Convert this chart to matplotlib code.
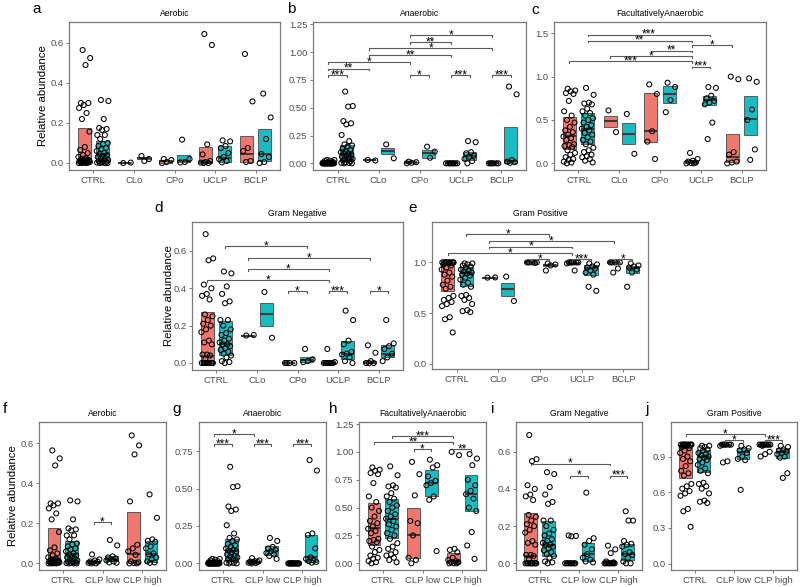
import matplotlib
matplotlib.use("Agg")
import matplotlib.pyplot as plt
from matplotlib.patches import Rectangle
import numpy as np

plt.rcParams['font.family'] = ['Liberation Sans', 'DejaVu Sans']

RED = '#F0776D'
TEAL = '#19BCC1'

CATS5 = ["CTRL", "CLo", "CPo", "UCLP", "BCLP"]
CATS3 = ["CTRL", "CLP low", "CLP high"]

# ---------------- shared control values ----------------
AER_CTRL_R = [0.565, 0.525, 0.49, 0.30, 0.30, 0.29, 0.275, 0.25, 0.22, 0.157, 0.08, 0.065, 0.05,
              0.04, 0.03, 0.025, 0.02, 0.015, 0.012, 0.01, 0.008, 0.006, 0.005, 0.004, 0.003,
              0.002, 0.001, 0.0, 0.0, 0.0, 0.01, 0.02]
AER_CTRL_T = [0.315, 0.31, 0.22, 0.175, 0.17, 0.165, 0.14, 0.14, 0.12, 0.10, 0.095, 0.085, 0.075,
              0.07, 0.06, 0.05, 0.045, 0.04, 0.035, 0.03, 0.025, 0.02, 0.015, 0.01, 0.008, 0.005,
              0.003, 0.002, 0.0, 0.0, 0.0]
ANA_CTRL_R = [0.03, 0.03, 0.025, 0.02, 0.015, 0.01, 0.008, 0.005, 0.003, 0.002, 0.0, 0.0, 0.0,
              0.0, 0.0, 0.0, 0.0, 0.0, 0.0, 0.0, 0.0, 0.0, 0.0, 0.0, 0.0, 0.0, 0.0, 0.0, 0.0, 0.0]
ANA_CTRL_T = [0.645, 0.515, 0.51, 0.38, 0.36, 0.35, 0.255, 0.2, 0.17, 0.16, 0.15, 0.13, 0.12, 0.11,
              0.1, 0.09, 0.085, 0.08, 0.07, 0.06, 0.05, 0.045, 0.04, 0.03, 0.025, 0.02, 0.01,
              0.005, 0.003, 0.0, 0.0]
FAC_CTRL_R = [0.86, 0.84, 0.83, 0.81, 0.80, 0.72, 0.60, 0.55, 0.50, 0.47, 0.42, 0.38, 0.36, 0.33,
              0.31, 0.29, 0.27, 0.22, 0.21, 0.20, 0.19, 0.15, 0.12, 0.10, 0.07, 0.05, 0.04, 0.02,
              0.01, 0.0]
FAC_CTRL_T = [0.87, 0.79, 0.70, 0.69, 0.68, 0.63, 0.60, 0.58, 0.55, 0.52, 0.50, 0.47, 0.44, 0.42,
              0.40, 0.38, 0.35, 0.33, 0.30, 0.27, 0.25, 0.22, 0.18, 0.15, 0.13, 0.10, 0.08, 0.07,
              0.05, 0.03, 0.01]
GN_CTRL_R = [0.69, 0.56, 0.55, 0.42, 0.40, 0.37, 0.36, 0.34, 0.26, 0.25, 0.23, 0.21, 0.20, 0.18,
             0.165, 0.12, 0.11, 0.10, 0.045, 0.045, 0.04, 0.02, 0.0, 0.0, 0.0, 0.0, 0.0, 0.0, 0.0,
             0.0, 0.0, 0.0]
GN_CTRL_T = [0.49, 0.48, 0.41, 0.37, 0.33, 0.32, 0.23, 0.23, 0.20, 0.18, 0.16, 0.15, 0.13, 0.12,
             0.11, 0.10, 0.10, 0.09, 0.08, 0.07, 0.06, 0.05, 0.04, 0.03, 0.01, 0.005, 0.0]
GP_CTRL_R = [1.0, 1.0, 1.0, 1.0, 1.0, 1.0, 1.0, 1.0, 1.0, 1.0, 0.99, 0.98, 0.97, 0.95, 0.93, 0.90,
             0.88, 0.86, 0.82, 0.78, 0.76, 0.74, 0.67, 0.65, 0.63, 0.61, 0.59, 0.57, 0.46, 0.44, 0.31]
GP_CTRL_T = [0.99, 0.99, 0.98, 0.97, 0.96, 0.95, 0.93, 0.92, 0.91, 0.90, 0.89, 0.88, 0.87, 0.85,
             0.83, 0.80, 0.78, 0.76, 0.68, 0.67, 0.65, 0.63, 0.59, 0.53, 0.52, 0.51]

# ---------------- panel a: Aerobic ----------------
A_RED = [AER_CTRL_R, [0.0, 0.002], [0.02, 0.015, 0.005, 0.0],
         [0.645, 0.59, 0.093, 0.043, 0.01, 0.005, 0.002, 0.0, 0.0],
         [0.545, 0.308, 0.075, 0.06, 0.01, 0.005]]
A_TEAL = [AER_CTRL_T, [0.035, 0.02, 0.01], [0.117, 0.02, 0.005, 0.003],
          [0.113, 0.108, 0.085, 0.075, 0.05, 0.03, 0.02, 0.01, 0.003],
          [0.347, 0.228, 0.12, 0.045, 0.03, 0.005, 0.0]]
A_RED_BOX = [(0.003, 0.02, 0.175), (0.0, 0.002, 0.004), (0.002, 0.008, 0.017), (0.0, 0.007, 0.08), (0.005, 0.045, 0.133)]
A_TEAL_BOX = [(0.003, 0.045, 0.112), (0.018, 0.025, 0.03), (0.003, 0.012, 0.042), (0.005, 0.025, 0.087), (0.01, 0.045, 0.172)]
A_SIG = []

# ---------------- panel b: Anaerobic ----------------
B_RED = [ANA_CTRL_R, [0.03, 0.025], [0.015, 0.01, 0.005, 0.0],
         [0.0, 0.0, 0.0, 0.0, 0.0, 0.0, 0.0, 0.0], [0.0, 0.0, 0.0, 0.0, 0.0, 0.0]]
B_TEAL = [ANA_CTRL_T, [0.17, 0.045], [0.15, 0.105, 0.05],
          [0.2, 0.19, 0.1, 0.09, 0.07, 0.06, 0.04, 0.02, 0.0],
          [0.69, 0.62, 0.03, 0.015, 0.01, 0.005]]
B_RED_BOX = [(0.0, 0.0, 0.01), (0.026, 0.028, 0.03), (0.002, 0.008, 0.015), (0.0, 0.0, 0.002), (0.0, 0.0, 0.002)]
B_TEAL_BOX = [(0.024, 0.08, 0.164), (0.085, 0.11, 0.135), (0.05, 0.09, 0.12), (0.03, 0.07, 0.105), (0.005, 0.02, 0.325)]
B_SIG = [(0, 0, 0, 1, 0.792, '***'), (0, 0, 1, 0, 0.852, '**'), (0, 0, 2, 0, 0.912, '*'),
         (1, 0, 3, 0, 0.972, '**'), (1, 0, 4, 0, 1.032, '*'), (2, 0, 3, 0, 1.089, '**'),
         (2, 0, 4, 0, 1.154, '*'), (2, 0, 2, 1, 0.792, '*'), (3, 0, 3, 1, 0.792, '***'),
         (4, 0, 4, 1, 0.792, '***')]

# ---------------- panel c: FacultativelyAnaerobic ----------------
C_RED = [FAC_CTRL_R, [0.61, 0.36], [0.91, 0.80, 0.37, 0.25, 0.05],
         [0.12, 0.05, 0.03, 0.02, 0.01, 0.005, 0.0, 0.0],
         [1.0, 0.97, 0.13, 0.10, 0.02, 0.01, 0.0]]
C_TEAL = [FAC_CTRL_T, [0.57, 0.11], [0.93, 0.88, 0.73, 0.59],
          [0.88, 0.87, 0.78, 0.75, 0.72, 0.70, 0.68, 0.47, 0.28],
          [0.98, 0.94, 0.62, 0.50, 0.16, 0.04]]
C_RED_BOX = [(0.165, 0.32, 0.54), (0.42, 0.49, 0.55), (0.25, 0.375, 0.81), (0.0, 0.012, 0.035), (0.02, 0.07, 0.34)]
C_TEAL_BOX = [(0.223, 0.40, 0.577), (0.22, 0.34, 0.46), (0.69, 0.80, 0.89), (0.67, 0.73, 0.78), (0.33, 0.51, 0.78)]
C_SIG = [(0, 1, 3, 1, 1.485, '***'), (0, 1, 3, 0, 1.415, '**'), (3, 0, 4, 0, 1.365, '*'),
         (2, 0, 3, 0, 1.30, '**'), (1, 0, 3, 0, 1.238, '*'), (0, 0, 3, 0, 1.18, '***'),
         (3, 0, 3, 1, 1.115, '***')]

# ---------------- panel d: Gram Negative ----------------
D_RED = [GN_CTRL_R, [0.147, 0.15], [0.0, 0.0, 0.0, 0.0],
         [0.075, 0.005, 0.0, 0.0, 0.0, 0.0, 0.0, 0.0, 0.0],
         [0.095, 0.055, 0.01, 0.0, 0.0, 0.0]]
D_TEAL = [GN_CTRL_T, [0.38, 0.135], [0.075, 0.02, 0.01, 0.005],
          [0.28, 0.23, 0.12, 0.10, 0.06, 0.05, 0.045, 0.03, 0.01, 0.0],
          [0.23, 0.105, 0.09, 0.075, 0.05, 0.03, 0.01]]
D_RED_BOX = [(0.0, 0.04, 0.273), (0.146, 0.147, 0.149), (0.0, 0.0, 0.002), (0.0, 0.0, 0.005), (0.0, 0.002, 0.012)]
D_TEAL_BOX = [(0.041, 0.10, 0.225), (0.196, 0.26, 0.32), (0.005, 0.015, 0.033), (0.02, 0.05, 0.12), (0.03, 0.05, 0.095)]
D_SIG = [(0, 1, 2, 1, 0.625, '*'), (1, 0, 4, 0, 0.5625, '*'), (1, 0, 3, 0, 0.504, '*'),
         (0, 0, 3, 0, 0.443, '*'), (2, 0, 2, 1, 0.384, '*'), (3, 0, 3, 1, 0.384, '***'),
         (4, 0, 4, 1, 0.384, '*')]

# ---------------- panel e: Gram Positive ----------------
E_RED = [GP_CTRL_R, [0.85, 0.852], [1.0, 1.0, 1.0, 1.0, 0.995],
         [1.0, 1.0, 1.0, 1.0, 1.0, 1.0, 0.99, 0.92], [1.0, 1.0, 1.0, 1.0, 0.94, 0.90]]
E_TEAL = [GP_CTRL_T, [0.86, 0.62], [0.99, 0.98, 0.97, 0.92],
          [0.99, 0.98, 0.96, 0.95, 0.94, 0.92, 0.90, 0.88, 0.76, 0.72],
          [0.99, 0.97, 0.96, 0.95, 0.93, 0.90, 0.76]]
E_RED_BOX = [(0.72, 0.97, 1.0), (0.849, 0.851, 0.853), (0.995, 1.0, 1.0), (0.99, 0.995, 1.0), (0.99, 1.0, 1.0)]
E_TEAL_BOX = [(0.766, 0.90, 0.955), (0.67, 0.74, 0.80), (0.965, 0.975, 0.985), (0.88, 0.94, 0.97), (0.90, 0.94, 0.96)]
E_SIG = [(0, 1, 2, 1, 1.276, '*'), (1, 0, 4, 0, 1.21, '*'), (1, 0, 3, 0, 1.155, '*'),
         (0, 0, 3, 0, 1.095, '*'), (2, 0, 2, 1, 1.033, '*'), (3, 0, 3, 1, 1.033, '***'),
         (4, 0, 4, 1, 1.033, '*')]

# ---------------- panel f: Aerobic (pooled) ----------------
F_RED = [AER_CTRL_R, [0.045, 0.02, 0.015, 0.01, 0.008, 0.005, 0.003, 0.0, 0.0],
         [0.64, 0.59, 0.545, 0.31, 0.093, 0.075, 0.06, 0.043, 0.01, 0.005, 0.002, 0.0, 0.0]]
F_TEAL = [AER_CTRL_T, [0.117, 0.09, 0.035, 0.03, 0.025, 0.02, 0.015, 0.01, 0.005, 0.003],
          [0.345, 0.228, 0.12, 0.113, 0.108, 0.085, 0.075, 0.05, 0.045, 0.03, 0.02, 0.01, 0.005, 0.003]]
F_RED_BOX = [(0.003, 0.02, 0.175), (0.0, 0.005, 0.01), (0.0, 0.045, 0.255)]
F_TEAL_BOX = [(0.003, 0.045, 0.112), (0.01, 0.02, 0.035), (0.005, 0.045, 0.113)]
F_SIG = [(1, 0, 1, 1, 0.205, '*')]

# ---------------- panel g: Anaerobic (pooled) ----------------
G_RED = [ANA_CTRL_R, [0.035, 0.02, 0.015, 0.012, 0.01, 0.008, 0.005, 0.003, 0.0],
         [0.0, 0.0, 0.0, 0.0, 0.0, 0.0, 0.0, 0.0, 0.0, 0.0, 0.0, 0.0, 0.0, 0.0]]
G_TEAL = [ANA_CTRL_T, [0.17, 0.15, 0.11, 0.10, 0.09, 0.08, 0.07, 0.06, 0.05, 0.03],
          [0.69, 0.62, 0.2, 0.19, 0.1, 0.04, 0.03, 0.02, 0.015, 0.01, 0.005]]
G_RED_BOX = [(0.0, 0.0, 0.01), (0.003, 0.008, 0.015), (0.0, 0.0, 0.002)]
G_TEAL_BOX = [(0.024, 0.08, 0.164), (0.055, 0.08, 0.115), (0.01, 0.04, 0.19)]
G_SIG = [(0, 0, 1, 0, 0.861, '*'), (0, 0, 0, 1, 0.797, '***'), (1, 0, 1, 1, 0.797, '***'),
         (2, 0, 2, 1, 0.797, '***')]

# ---------------- panel h: FacultativelyAnaerobic (pooled) ----------------
H_RED = [FAC_CTRL_R, [0.91, 0.80, 0.61, 0.38, 0.36, 0.25, 0.05, 0.03, 0.0],
         [1.0, 0.97, 0.13, 0.12, 0.10, 0.05, 0.03, 0.02, 0.01, 0.01, 0.0, 0.0, 0.0]]
H_TEAL = [FAC_CTRL_T, [0.93, 0.88, 0.86, 0.78, 0.74, 0.72, 0.70, 0.60, 0.57, 0.11],
          [0.98, 0.94, 0.88, 0.75, 0.70, 0.65, 0.62, 0.58, 0.50, 0.47, 0.28, 0.16, 0.04]]
H_RED_BOX = [(0.165, 0.32, 0.54), (0.045, 0.254, 0.493), (0.0, 0.02, 0.09)]
H_TEAL_BOX = [(0.223, 0.40, 0.577), (0.604, 0.72, 0.837), (0.47, 0.62, 0.79)]
H_SIG = [(0, 1, 2, 0, 1.142, '***'), (0, 0, 2, 0, 1.09, '**'), (1, 0, 1, 1, 1.026, '*'),
         (2, 0, 2, 1, 1.026, '**')]

# ---------------- panel i: Gram Negative (pooled) ----------------
I_RED = [GN_CTRL_R, [0.15, 0.147, 0.145, 0.0, 0.0, 0.0, 0.0, 0.0, 0.0, 0.0, 0.0],
         [0.095, 0.075, 0.055, 0.01, 0.005, 0.0, 0.0, 0.0, 0.0, 0.0, 0.0, 0.0, 0.0]]
I_TEAL = [GN_CTRL_T, [0.38, 0.135, 0.12, 0.10, 0.075, 0.05, 0.03, 0.02, 0.01, 0.005],
          [0.28, 0.23, 0.23, 0.12, 0.105, 0.10, 0.09, 0.06, 0.05, 0.045, 0.03, 0.01, 0.0, 0.0]]
I_RED_BOX = [(0.0, 0.04, 0.273), (0.0, 0.0, 0.002), (0.0, 0.0, 0.007)]
I_TEAL_BOX = [(0.041, 0.10, 0.225), (0.014, 0.05, 0.107), (0.018, 0.05, 0.106)]
I_SIG = [(0, 0, 2, 0, 0.536, '*'), (1, 0, 1, 1, 0.471, '*'), (2, 0, 2, 1, 0.471, '***')]

# ---------------- panel j: Gram Positive (pooled) ----------------
J_RED = [GP_CTRL_R, [1.0, 1.0, 1.0, 1.0, 1.0, 1.0, 0.99, 0.86, 0.85],
         [1.0, 1.0, 1.0, 1.0, 1.0, 1.0, 1.0, 1.0, 0.99, 0.94, 0.92, 0.90]]
J_TEAL = [GP_CTRL_T, [0.99, 0.97, 0.96, 0.95, 0.93, 0.90, 0.88, 0.87, 0.62],
          [0.99, 0.98, 0.96, 0.95, 0.94, 0.93, 0.92, 0.90, 0.89, 0.76, 0.72]]
J_RED_BOX = [(0.72, 0.97, 1.0), (0.995, 1.0, 1.0), (0.99, 0.997, 1.0)]
J_TEAL_BOX = [(0.766, 0.90, 0.955), (0.88, 0.935, 0.975), (0.89, 0.94, 0.97)]
J_SIG = [(0, 0, 2, 0, 1.088, '*'), (1, 0, 1, 1, 1.04, '*'), (2, 0, 2, 1, 1.04, '***')]

YT_A = [0.0, 0.2, 0.4, 0.6]; YL_A = ["0.0", "0.2", "0.4", "0.6"]
YT_B = [0.0, 0.25, 0.5, 0.75, 1.0, 1.25]; YL_B = ["0.00", "0.25", "0.50", "0.75", "1.00", "1.25"]
YT_C = [0.0, 0.5, 1.0, 1.5]; YL_C = ["0.0", "0.5", "1.0", "1.5"]
YT_E = [0.0, 0.5, 1.0]; YL_E = ["0.0", "0.5", "1.0"]
YT_G = [0.0, 0.25, 0.5, 0.75]; YL_G = ["0.00", "0.25", "0.50", "0.75"]
YT_J = [0.0, 0.3, 0.6, 0.9]; YL_J = ["0.0", "0.3", "0.6", "0.9"]

W, H = 800, 587
fig = plt.figure(figsize=(W / 100, H / 100), dpi=100)
fig.patch.set_facecolor('white')

FRAME = '#7a7a7a'
TICKC = '#4d4d4d'
DODGE = 0.225
BW = 0.32


def px_axes(l, t, r, b):
    return fig.add_axes([l / W, 1 - b / H, (r - l) / W, (b - t) / H])


def draw(ax, cats, red, teal, rbox, tbox, sigs, ylim, yt, yl, title):
    n = len(cats)
    for i in range(n):
        for s, (pts, box, col) in enumerate([(red[i], rbox[i], RED), (teal[i], tbox[i], TEAL)]):
            xc = i + 1 + (-DODGE if s == 0 else DODGE)
            q1, md, q3 = box
            ax.add_patch(Rectangle((xc - BW / 2, q1), BW, q3 - q1, facecolor=col,
                                   edgecolor='#5a5a5a', lw=0.7, zorder=2))
            ax.plot([xc - BW / 2, xc + BW / 2], [md, md], color='#3a3a3a', lw=1.5,
                    zorder=3, solid_capstyle='butt')
            k = len(pts)
            offs = ((np.arange(k) * 0.6180339887 + 0.37) % 1.0 - 0.5) * 0.30
            ax.scatter(xc + offs, pts, s=13, facecolors='none', edgecolors='black',
                       linewidths=0.75, zorder=4)
    rng = ylim[1] - ylim[0]
    tip = 0.012 * rng
    for g1, s1, g2, s2, y, lab in sigs:
        x1 = g1 + 1 + (-DODGE if s1 == 0 else DODGE)
        x2 = g2 + 1 + (-DODGE if s2 == 0 else DODGE)
        ax.plot([x1, x1, x2, x2], [y - tip, y, y, y - tip], color='#5a5a5a', lw=0.8, zorder=5)
        ax.annotate(lab, xy=((x1 + x2) / 2, y), xytext=(0, -2.3), textcoords='offset points',
                    ha='center', va='baseline', fontsize=8.5, color='black', zorder=6)
    ax.set_xlim(0.4, n + 0.6)
    ax.set_ylim(*ylim)
    ax.set_xticks(range(1, n + 1))
    ax.set_xticklabels(cats)
    ax.set_yticks(yt)
    ax.set_yticklabels(yl)
    for sp in ax.spines.values():
        sp.set_color(FRAME)
        sp.set_linewidth(0.9)
    ax.tick_params(axis='both', direction='out', length=2.5, width=0.7, color=FRAME,
                   labelsize=6.8, labelcolor=TICKC, pad=1.5)
    ax.set_title(title, fontsize=6.2, pad=4.5)


panels = [
    ((69, 22, 280, 170), CATS5, A_RED, A_TEAL, A_RED_BOX, A_TEAL_BOX, A_SIG, (-0.035, 0.705), YT_A, YL_A, "Aerobic", 'a', (37, 9)),
    ((313, 22, 526, 170), CATS5, B_RED, B_TEAL, B_RED_BOX, B_TEAL_BOX, B_SIG, (-0.06, 1.27), YT_B, YL_B, "Anaerobic", 'b', (291, 9)),
    ((554, 22, 766, 170), CATS5, C_RED, C_TEAL, C_RED_BOX, C_TEAL_BOX, C_SIG, (-0.077, 1.63), YT_C, YL_C, "FacultativelyAnaerobic", 'c', (535, 10)),
    ((192, 222, 403, 370), CATS5, D_RED, D_TEAL, D_RED_BOX, D_TEAL_BOX, D_SIG, (-0.0375, 0.755), YT_A, YL_A, "Gram Negative", 'd', (159, 208)),
    ((432, 222, 648, 369), CATS5, E_RED, E_TEAL, E_RED_BOX, E_TEAL_BOX, E_SIG, (-0.05, 1.398), YT_E, YL_E, "Gram Positive", 'e', (413, 208)),
    ((39, 422, 166, 570), CATS3, F_RED, F_TEAL, F_RED_BOX, F_TEAL_BOX, F_SIG, (-0.033, 0.707), YT_A, YL_A, "Aerobic", 'f', (5, 409)),
    ((199, 422, 326, 570), CATS3, G_RED, G_TEAL, G_RED_BOX, G_TEAL_BOX, G_SIG, (-0.044, 0.944), YT_G, YL_G, "Anaerobic", 'g', (177, 409)),
    ((359, 422, 486, 570), CATS3, H_RED, H_TEAL, H_RED_BOX, H_TEAL_BOX, H_SIG, (-0.06, 1.268), YT_B, YL_B, "FacultativelyAnaerobic", 'h', (333, 409)),
    ((516, 422, 642, 570), CATS3, I_RED, I_TEAL, I_RED_BOX, I_TEAL_BOX, I_SIG, (-0.036, 0.76), YT_A, YL_A, "Gram Negative", 'i', (493, 409)),
    ((671, 422, 797, 570), CATS3, J_RED, J_TEAL, J_RED_BOX, J_TEAL_BOX, J_SIG, (-0.053, 1.19), YT_J, YL_J, "Gram Positive", 'j', (647, 409)),
]

for box, cats, r, t, rb, tb, sg, yl_, yt, ytl, title, letter, lpos in panels:
    ax = px_axes(*box)
    draw(ax, cats, r, t, rb, tb, sg, yl_, yt, ytl, title)
    fig.text(lpos[0] / W, 1 - lpos[1] / H, letter, fontsize=11, ha='center', va='center')

# y axis labels
for xpx, (t, b) in [(43, (22, 170)), (169, (222, 370)), (13, (422, 570))]:
    fig.text(xpx / W, 1 - (t + b) / 2 / H, "Relative abundance", rotation=90,
             fontsize=8.2, ha='center', va='center')

fig.savefig("out.png", dpi=100)
